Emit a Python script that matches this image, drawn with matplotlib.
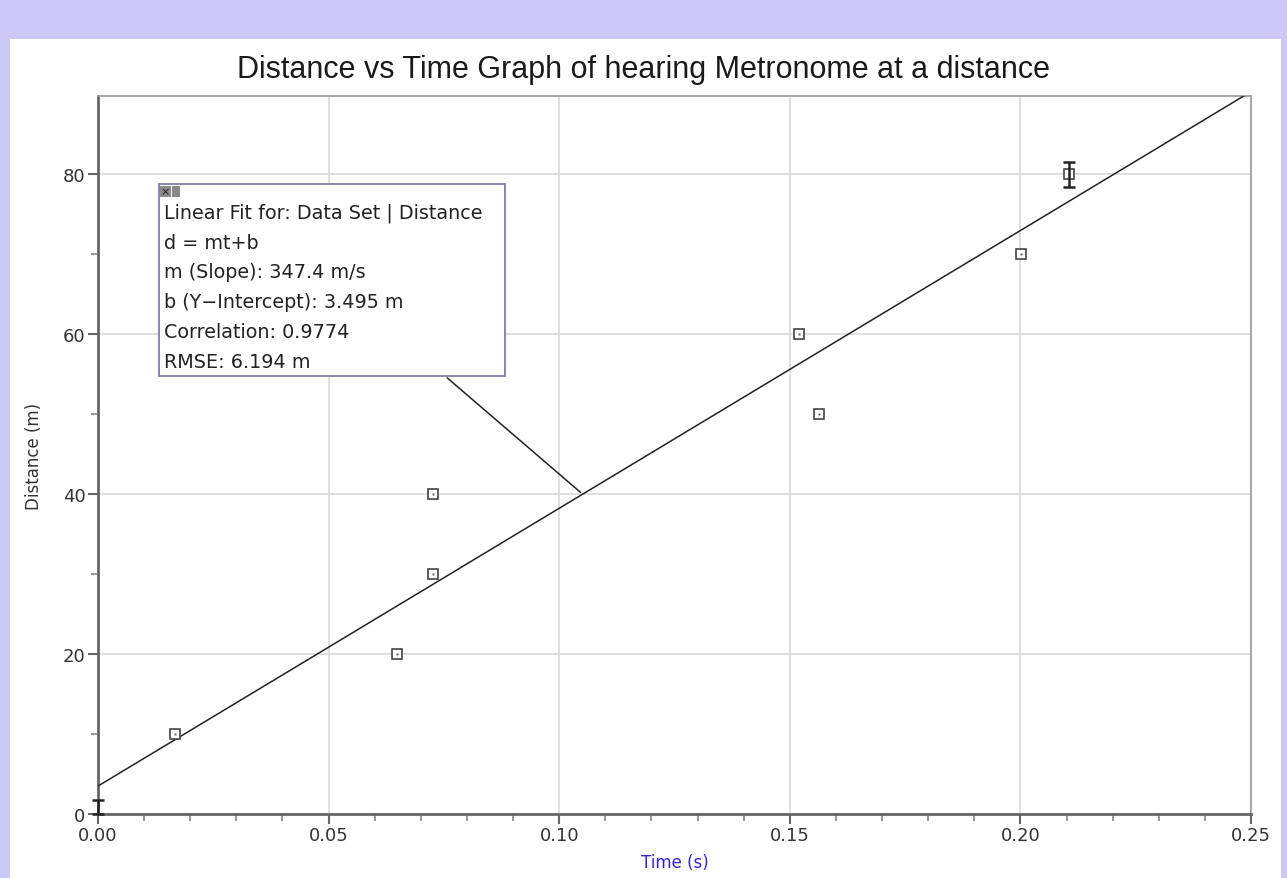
import numpy as np
import matplotlib.pyplot as plt
from matplotlib.patches import Rectangle
from matplotlib.ticker import MultipleLocator

# data
time_s = [0.0167, 0.0648, 0.0726, 0.0726, 0.1520, 0.1563, 0.2001, 0.2105]
distance_m = [10, 20, 30, 40, 60, 50, 70, 80]
err_time = [0.0, 0.2105]
err_dist = [0.0, 80.0]
err_lo = [0.0, 1.6]
err_hi = [1.8, 1.6]

slope = 347.4
intercept = 3.495
fit_lines = ["Linear Fit for: Data Set | Distance",
             "d = mt+b",
             "m (Slope): 347.4 m/s",
             "b (Y\u2212Intercept): 3.495 m",
             "Correlation: 0.9774",
             "RMSE: 6.194 m"]

purple = "#cdc9f7"
fig = plt.figure(figsize=(12.87, 8.79), dpi=100, facecolor=purple)
# white panel
fig.add_artist(Rectangle((10 / 1287, 0), 1271 / 1287, 839 / 879,
                         transform=fig.transFigure, facecolor="white",
                         edgecolor="none", zorder=-5))

ax = fig.add_axes([98 / 1287, 64 / 879, 1153 / 1287, 718 / 879])
ax.set_zorder(1)
ax.set_xlim(0, 0.25)
ax.set_ylim(0, 89.8)

ax.xaxis.set_major_locator(MultipleLocator(0.05))
ax.xaxis.set_minor_locator(MultipleLocator(0.01))
ax.yaxis.set_major_locator(MultipleLocator(20))
ax.yaxis.set_minor_locator(MultipleLocator(10))
ax.set_xticks([0, 0.05, 0.10, 0.15, 0.20, 0.25])
ax.set_xticklabels(["0.00", "0.05", "0.10", "0.15", "0.20", "0.25"])
ax.grid(which="major", color="#d9d9d9", lw=1.2)
ax.set_axisbelow(True)

for s in ["top", "right"]:
    ax.spines[s].set_color("#9a9a9a")
    ax.spines[s].set_linewidth(1.2)
for s in ["left", "bottom"]:
    ax.spines[s].set_color("#666666")
    ax.spines[s].set_linewidth(2)

ax.tick_params(which="major", length=7, width=1.5, color="#666666",
               labelsize=13, labelcolor="#333333", pad=2)
ax.tick_params(which="minor", length=5, width=1.3, color="#909090")

# fit line
tt = np.array([0, 0.25])
ax.plot(tt, slope * tt + intercept, color="#222222", lw=1.1, zorder=3)

# points
ax.plot(time_s, distance_m, ls="none", marker="s", ms=6.5, mfc="white",
        mec="#444444", mew=1.2, zorder=4)
ax.plot(time_s, distance_m, ls="none", marker="s", ms=1.8, mfc="#666666",
        mec="none", zorder=5)
ax.errorbar(err_time, err_dist, yerr=[err_lo, err_hi], fmt="none",
            ecolor="#222222", elinewidth=1.8, capsize=4, capthick=1.8,
            zorder=5, clip_on=False)

# annotation box
bx0, bx1, by0, by1 = 0.0529, 0.353, 0.610, 0.877
ax.add_patch(Rectangle((bx0, by0), bx1 - bx0, by1 - by0, transform=ax.transAxes,
                       facecolor="white", edgecolor="#7c7cae", lw=1.3, zorder=6))
ax.add_patch(Rectangle((bx0 + 0.001, by1 - 0.018), 0.009, 0.016,
                       transform=ax.transAxes, facecolor="#8a8a8a",
                       edgecolor="none", zorder=7))
ax.add_patch(Rectangle((bx0 + 0.0115, by1 - 0.018), 0.007, 0.016,
                       transform=ax.transAxes, facecolor="#8a8a8a",
                       edgecolor="none", zorder=7))
ax.text(bx0 + 0.0055, by1 - 0.010, "\u00d7", transform=ax.transAxes,
        ha="center", va="center", fontsize=8, color="#222222", zorder=8)
for i, line in enumerate(fit_lines):
    ax.text(bx0 + 0.004, by1 - 0.039 - i * 0.0415, line, transform=ax.transAxes,
            ha="left", va="center", fontsize=13.8, color="#222222",
            family="DejaVu Sans", zorder=8)

# leader line from box to fit line at d = 40
t_hit = (40 - intercept) / slope
ax.annotate("", xy=(t_hit, 40), xycoords="data",
            xytext=(0.301, by0), textcoords="axes fraction",
            arrowprops=dict(arrowstyle="-", color="#222222", lw=1.1),
            zorder=5)

ax.set_xlabel("Time (s)", fontsize=12, color="#3322dd", labelpad=6)
ax.set_ylabel("Distance (m)", fontsize=12, color="#333333", labelpad=14)
fig.suptitle("Distance vs Time Graph of hearing Metronome at a distance",
             x=0.5, y=0.920, fontsize=22, family="Liberation Sans",
             color="#1a1a1a", va="center")

fig.savefig("out.png", dpi=100, facecolor=purple)
